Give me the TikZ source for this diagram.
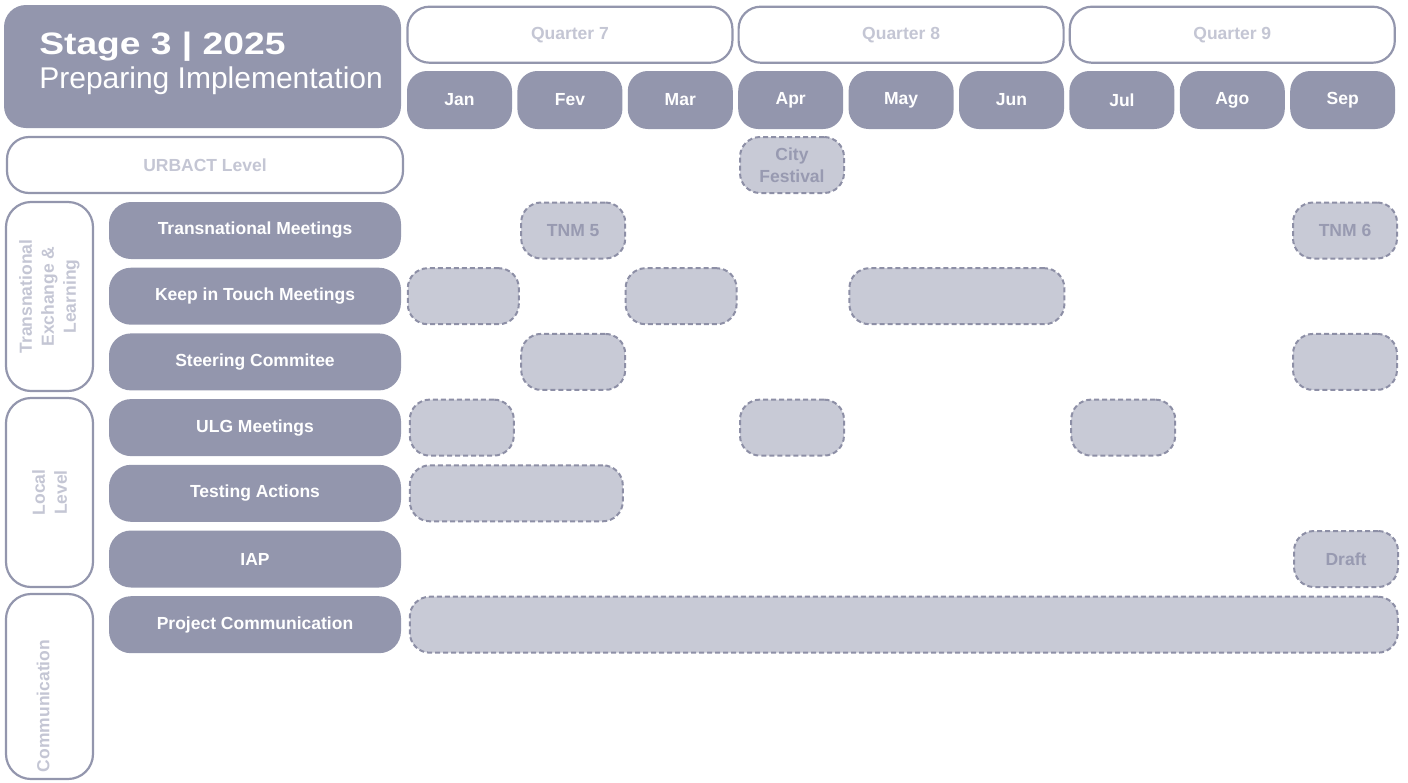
\documentclass[tikz,border=0pt]{standalone}
\usepackage{fontspec}
\setmainfont{Liberation Sans}
\usepackage{graphicx}
\usepackage{tikz}
\usetikzlibrary{positioning}
\definecolor{slate}{HTML}{9396AD}
\definecolor{haze}{HTML}{C8CAD6}
\definecolor{mist}{HTML}{C4C6D4}
\definecolor{dashc}{HTML}{8D8FA6}
\definecolor{bartext}{HTML}{989AB1}

\begin{document}
\begin{tikzpicture}[x=1pt, y=-1pt, node distance=5pt,
  lbl/.style={font=\fontsize{17.5}{22}\selectfont\bfseries},
  month/.style={lbl, fill=slate, text=white, rounded corners=20pt, minimum width=105pt, minimum height=58pt, inner sep=0pt},
  quarter/.style={lbl, draw=slate, line width=2.2pt, fill=white, text=mist, rounded corners=22pt, minimum height=56pt, inner sep=0pt},
  rowbox/.style={lbl, fill=slate, text=white, rounded corners=22pt, minimum width=292pt, minimum height=57pt, inner sep=0pt},
  group/.style={lbl, draw=slate, line width=2.2pt, text=mist, rounded corners=25pt, minimum height=87pt, align=center, inner sep=0pt, rotate=90},
  bar/.style={lbl, draw=dashc, fill=haze, text=bartext, line width=2pt, dash pattern=on 5pt off 3pt, rounded corners=20pt, minimum height=56pt, minimum width=104pt, anchor=west, inner sep=0pt, align=center}]
  \useasboundingbox (0,0) rectangle (1408,782);
  % title and level header
  \node[fill=slate, rounded corners=22pt, minimum width=397pt, minimum height=123pt] (stage) at (202.5,66.5) {};
  \node[anchor=west, text=white, align=left, font=\fontsize{30}{34}\selectfont] (stagetxt) at ([xshift=32pt,yshift=3pt]stage.west) {\scalebox{1.2}[1]{\fontsize{31}{34}\selectfont\bfseries Stage 3 | 2025}\\Preparing Implementation};
  \node[quarter, minimum width=396pt] (urbact) at (205,165) {URBACT Level};
  % months
  \node[month] (jan) at (459.5,100) {Jan};
  \node[month, right=of jan] (fev) {Fev};
  \node[month, right=of fev] (mar) {Mar};
  \node[month, right=of mar] (apr) {Apr};
  \node[month, right=of apr] (may) {May};
  \node[month, right=of may] (jun) {Jun};
  \node[month, right=of jun] (jul) {Jul};
  \node[month, right=of jul] (ago) {Ago};
  \node[month, right=of ago] (sep) {Sep};
  % quarters
  \node[quarter, minimum width=325pt, above=7pt of fev] (q7) {Quarter 7};
  \node[quarter, minimum width=325pt, above=7pt of may] (q8) {Quarter 8};
  \node[quarter, minimum width=325pt, above=7pt of ago] (q9) {Quarter 9};
  % activity rows
  \node[rowbox] (tm) at (255,230.5) {Transnational Meetings};
  \node[rowbox, below=8.3pt of tm] (kit) {Keep in Touch Meetings};
  \node[rowbox, below=8.3pt of kit] (sc) {Steering Commitee};
  \node[rowbox, below=8.3pt of sc] (ulg) {ULG Meetings};
  \node[rowbox, below=8.3pt of ulg] (ta) {Testing Actions};
  \node[rowbox, below=8.3pt of ta] (iap) {IAP};
  \node[rowbox, below=8.3pt of iap] (pc) {Project Communication};
  % groups
  \node[group, minimum width=189pt] (tel) at (49.5,296.5) {Transnational\\Exchange \&\\Learning};
  \node[group, minimum width=189pt] (local) at (49.5,492.5) {Local\\Level};
  \node[group, minimum width=185pt] (comm) at (49.5,686.5) {};
  \node[lbl, text=mist, rotate=90] (commtxt) at (43,706) {Communication};
  % planned slots
  \node[bar] (fest) at ([xshift=1pt]apr.west |- urbact) {City\\Festival};
  \node[bar] (tnm5) at ([xshift=3pt]fev.west |- tm) {TNM 5};
  \node[bar] (tnm6) at ([xshift=2pt]sep.west |- tm) {TNM 6};
  \node[bar, minimum width=111pt] (kit1) at (jan.west |- kit) {};
  \node[bar, minimum width=111pt] (kit2) at ([xshift=-3pt]mar.west |- kit) {};
  \node[bar, minimum width=215pt] (kit3) at (may.west |- kit) {};
  \node[bar] (sc1) at ([xshift=3pt]fev.west |- sc) {};
  \node[bar] (sc2) at ([xshift=2pt]sep.west |- sc) {};
  \node[bar] (ulg1) at ([xshift=2pt]jan.west |- ulg) {};
  \node[bar] (ulg2) at ([xshift=1pt]apr.west |- ulg) {};
  \node[bar] (ulg3) at ([xshift=1pt]jul.west |- ulg) {};
  \node[bar, minimum width=213pt] (ta1) at ([xshift=2pt]jan.west |- ta) {};
  \node[bar] (draft) at ([xshift=3pt]sep.west |- iap) {Draft};
  \node[bar, minimum width=988pt] (pc1) at ([xshift=2pt]jan.west |- pc) {};
\end{tikzpicture}
\end{document}
